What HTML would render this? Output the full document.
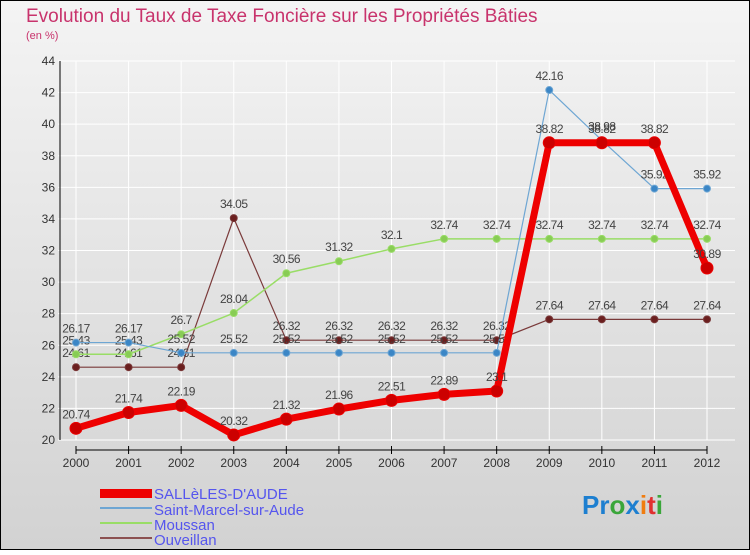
<!DOCTYPE html>
<html><head><meta charset="utf-8"><style>
body{margin:0}
svg{font-family:"Liberation Sans",sans-serif}
</style></head><body>
<svg id="c" width="750" height="550" xmlns="http://www.w3.org/2000/svg">
<defs><linearGradient id="bg" x1="0" y1="0" x2="0" y2="1"><stop offset="0" stop-color="#f4f4f4"/><stop offset="1" stop-color="#d2d2d2"/></linearGradient></defs>
<rect x="0.5" y="0.5" width="749" height="549" fill="url(#bg)" stroke="#000"/>
<text x="26" y="22" font-size="19" fill="#c8336c">Evolution du Taux de Taxe Foncière sur les Propriétés Bâties</text>
<text x="26" y="39" font-size="11" fill="#c8336c">(en %)</text>
<g id="axes"></g>
<g id="series"></g>
<g>
<rect x="100" y="489" width="52" height="9" fill="#e00"/>
<text x="154" y="499" font-size="15" fill="#5555ee">SALLèLES-D'AUDE</text>
<line x1="100" y1="508" x2="152" y2="508" stroke="#6ea6d3" stroke-width="2"/>
<text x="154" y="515" font-size="15" fill="#5555ee">Saint-Marcel-sur-Aude</text>
<line x1="100" y1="523" x2="152" y2="523" stroke="#99dd66" stroke-width="2"/>
<text x="154" y="530" font-size="15" fill="#5555ee">Moussan</text>
<line x1="100" y1="538" x2="152" y2="538" stroke="#8b5050" stroke-width="2"/>
<text x="154" y="545" font-size="15" fill="#5555ee">Ouveillan</text>
</g>
<text x="582" y="514" font-size="26" font-weight="bold"><tspan fill="#1d7fd0">Pr</tspan><tspan fill="#3aa63a">o</tspan><tspan fill="#1d7fd0">x</tspan><tspan fill="#f07d10">i</tspan><tspan fill="#e03030">t</tspan><tspan fill="#3aa63a">i</tspan></text>
</svg>
<script>
const years=["2000","2001","2002","2003","2004","2005","2006","2007","2008","2009","2010","2011","2012"];
const salleles=[20.74,21.74,22.19,20.32,21.32,21.96,22.51,22.89,23.1,38.82,38.82,38.82,30.89];
const saintMarcel=[26.17,26.17,25.52,25.52,25.52,25.52,25.52,25.52,25.52,42.16,38.98,35.92,35.92];
const moussan=[25.43,25.43,26.7,28.04,30.56,31.32,32.1,32.74,32.74,32.74,32.74,32.74,32.74];
const ouveillan=[24.61,24.61,24.61,34.05,26.32,26.32,26.32,26.32,26.32,27.64,27.64,27.64,27.64];
const yTicks=[20,22,24,26,28,30,32,34,36,38,40,42,44];
const NS="http://www.w3.org/2000/svg";
const X=i=>76+i*(707-76)/(years.length-1);
const Y=v=>440-(v-20)*(440-61)/24;
function mk(t,a,p){const e=document.createElementNS(NS,t);for(const k in a)e.setAttribute(k,a[k]);p.appendChild(e);return e;}
const ax=document.getElementById('axes');
for(const t of yTicks){
 const g=mk('line',{x1:58,x2:735,y1:Y(t),y2:Y(t),stroke:'#fff','stroke-width':1},ax);
 
 
 const l=mk('text',{x:55,y:Y(t)+4,'font-size':12,'text-anchor':'end',fill:'#333'},ax);
 l.textContent=t;
 
 
}
for(let i=0;i<years.length;i++){
 const g=mk('line',{x1:X(i),x2:X(i),y1:61,y2:440,stroke:'#fff','stroke-width':1},ax);
 
 
 mk('line',{x1:X(i),x2:X(i),y1:446,y2:454,stroke:'#000'},ax);
 const l=mk('text',{x:X(i),y:467,'font-size':12,'text-anchor':'middle',fill:'#333'},ax);
 l.textContent=years[i];
 
 
}
const xa=mk('line',{x1:76,x2:707,y1:450,y2:450,stroke:'#000'},ax);


const ya=mk('line',{x1:60,x2:60,y1:61,y2:440,stroke:'#000'},ax);


const sg=document.getElementById('series');
function series(name,vals,color,w,r,fill){
 const g=mk('g',{},sg);
 
 
 mk('polyline',{points:vals.map((v,i)=>X(i)+','+Y(v)).join(' '),fill:'none',stroke:color,'stroke-width':w,'stroke-linejoin':'round'},g);
 vals.forEach((v,i)=>{
  const c=mk('circle',{cx:X(i),cy:Y(v),r:r,fill:fill,stroke:color,'stroke-width':1},g);
  
  
  const t=mk('text',{x:X(i),y:Y(v)-10,'font-size':12,'text-anchor':'middle',fill:'#444','letter-spacing':'-0.5'},g);
  t.textContent=v;
  
  
 });
}
series('series-ouveillan',ouveillan,'#7a3a3a',1.2,3.5,'#6b1f1f');
series('series-moussan',moussan,'#99dd66',1.5,3.5,'#88cc55');
series('series-saint-marcel',saintMarcel,'#6ea6d3',1.2,3.5,'#3b86c6');
series('series-salleles',salleles,'#ee0000',7,6,'#cc0000');
</script>
</body></html>
